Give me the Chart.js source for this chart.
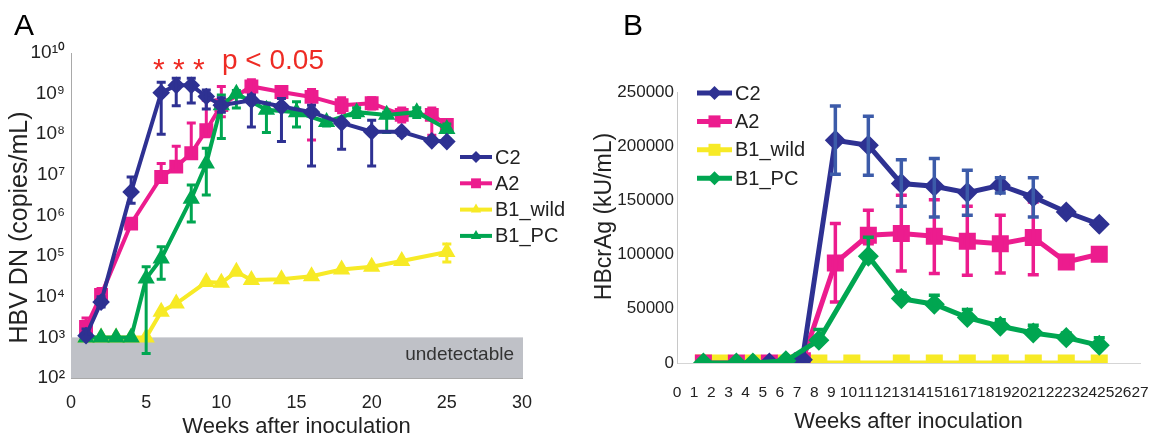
<!DOCTYPE html>
<html>
<head>
<meta charset="utf-8">
<script src="https://cdn.jsdelivr.net/npm/chart.js@4/dist/chart.umd.min.js"></script>
<style>
  body { margin: 0; background: #fff; width: 1155px; height: 440px; position: relative; overflow: hidden;
         font-family: "Liberation Sans", Arial, Helvetica, sans-serif; }
  #cA { position: absolute; left: 0; top: 0; }
  #cB { position: absolute; left: 590px; top: 0; }
  .panel { position: absolute; font-size: 30px; color: #000; line-height: 1; }
</style>
</head>
<body>
<canvas id="cA" width="600" height="440"></canvas>
<canvas id="cB" width="565" height="440"></canvas>
<div class="panel" style="left:14px;top:10px">A</div>
<div class="panel" style="left:623px;top:10px">B</div>
<script>
// ---- Panel A: HBV DNA (log scale) ----
const seriesNames = ["C2", "A2", "B1_wild", "B1_PC"];

const weeksC2A = [1, 2, 4, 6, 7, 8, 9, 10, 12, 14, 16, 18, 20, 22, 24, 25];
const c2A   = [1.1e3, 7.4e3, 3.8e6, 1.05e9, 1.6e9, 1.6e9, 8.5e8, 5.2e8, 6.9e8, 4.8e8, 3.5e8, 1.9e8, 1.15e8, 1.15e8, 6.9e7, 6.6e7];
const c2AHi = [1.6e3, 1.0e4, 8.9e6, 1.9e9, 2.4e9, 2.4e9, 1.23e9, 7.9e8, 9.3e8, 7.6e8, 5.2e8, 2.2e8, 2.2e8, 1.26e8, 7.9e7, 7.6e7];
const c2ALo = [1.0e3, 5.6e3, 2.0e6, 1.0e8, 5.0e8, 5.9e8, 4.2e8, 3.5e8, 1.5e8, 6.6e7, 1.66e7, 4.3e7, 1.66e7, 9.5e7, 6.0e7, 5.8e7];

const weeksA2A = [1, 2, 4, 6, 7, 8, 9, 10, 12, 14, 16, 18, 20, 22, 24, 25];
const a2A   = [1.8e3, 1.1e4, 6.3e5, 8.9e6, 1.6e7, 3.4e7, 1.26e8, 5.2e8, 1.5e9, 1.1e9, 8.3e8, 5.2e8, 5.8e8, 3.0e8, 3.0e8, 1.7e8];
const a2AHi = [3.0e3, 1.6e4, 7.9e5, 1.9e7, 5.1e7, 1.9e8, 6.9e8, 1.5e9, 2.2e9, 1.5e9, 1.26e9, 7.9e8, 7.9e8, 4.4e8, 4.4e8, 2.2e8];
const a2ALo = [1.26e3, 7.9e3, 5.0e5, 7.4e6, 1.3e7, 2.6e7, 8.7e7, 2.7e8, 1.0e9, 7.9e8, 7.2e7, 3.4e8, 4.2e8, 2.0e8, 9.5e7, 1.2e8];

const weeksWildA = [1, 2, 3, 4, 5, 6, 7, 9, 10, 11, 12, 14, 16, 18, 20, 22, 25];
const wildA   = [1e3, 1e3, 1e3, 1e3, 1e3, 4.3e3, 6.8e3, 2.3e4, 2.2e4, 4.1e4, 2.6e4, 2.7e4, 3.2e4, 4.7e4, 5.5e4, 7.6e4, 1.26e5];
const wildAHi = [null, null, null, null, null, null, null, null, null, null, null, null, null, null, null, null, 2.0e5];
const wildALo = [null, null, null, null, null, null, null, null, null, null, null, null, null, null, null, null, 7.2e4];

const weeksPcA = [1, 2, 3, 4, 5, 6, 8, 9, 10, 11, 13, 15, 17, 19, 21, 23, 25];
const pcA   = [1e3, 1e3, 1e3, 1e3, 2.8e4, 8.7e4, 2.6e6, 1.9e7, 5.2e8, 1.0e9, 4.0e8, 3.5e8, 2.0e8, 3.5e8, 3.0e8, 3.5e8, 1.35e8];
const pcAHi = [null, null, null, null, 5.5e4, 1.7e5, 5.6e6, 4.5e7, 9.3e8, 1.2e9, 5.9e8, 6.3e8, 2.5e8, 4.5e8, 3.5e8, 4.5e8, 1.8e8];
const pcALo = [null, null, null, null, 4.0e2, 2.7e4, 6.9e5, 3.2e6, 7.9e7, 4.4e8, 1.1e8, 1.5e8, 1.6e8, 2.6e8, 1.1e8, 2.6e8, 6.3e7];

const yTicksA = [1e2, 1e3, 1e4, 1e5, 1e6, 1e7, 1e8, 1e9, 1e10];
const yTickLabelsA = ["10²", "10³", "10⁴", "10⁵", "10⁶", "10⁷", "10⁸", "10⁹", "10¹⁰"];
const detectLimit = 1e3;

// ---- Panel B: HBcrAg (linear) ----
const weeksC2B = [5, 7, 9, 11, 13, 15, 17, 19, 21, 23, 25];
const c2B   = [0, 3000, 205400, 200800, 165500, 163000, 157200, 164000, 153100, 139300, 128000];
const c2BHi = [null, null, 237100, 227600, 187600, 188600, 177800, 171000, 171000, null, null];
const c2BLo = [null, null, 174100, 173200, 144600, 134700, 136300, 156800, 134700, null, null];

const weeksA2B = [1, 3, 5, 7, 9, 11, 13, 15, 17, 19, 21, 23, 25];
const a2B   = [0, 0, 0, 2000, 92300, 117800, 119400, 116900, 112300, 110100, 115700, 93200, 100300];
const a2BHi = [null, null, null, null, 128600, 140900, 154700, 150700, 144600, 136300, 148500, null, null];
const a2BLo = [null, null, null, null, 56300, 110000, 84900, 82500, 80900, 83000, 81500, null, null];

const weeksWildB = [1, 2, 4, 6, 8, 10, 13, 15, 17, 19, 21, 23, 25];
const wildB = [0, 0, 0, 0, 0, 0, 0, 0, 0, 0, 0, 0, 0];

const weeksPcB = [1, 3, 4, 6, 8, 11, 13, 15, 17, 19, 21, 23, 25];
const pcB   = [0, 0, 0, 2000, 21000, 98500, 59400, 54200, 41900, 33900, 27700, 23400, 16300];
const pcBHi = [null, null, null, null, 30800, 116000, 64600, 62500, 49300, 40000, 34800, 27700, 23400];

const yTicksB = [0, 50000, 100000, 150000, 200000, 250000];
const xTicksB = [0,1,2,3,4,5,6,7,8,9,10,11,12,13,14,15,16,17,18,19,20,21,22,23,24,25,26,27];

const NAVY = "#2E3192", PINK = "#EC1C8E", YELLOW = "#F7EA26", GREEN = "#00A651";
const FONT = "'Liberation Sans', Arial, Helvetica, sans-serif";
const CLEAR = "rgba(0,0,0,0)";

function pts(xs, ys) { return xs.map((x, i) => ({ x: x, y: ys[i] })); }

// error bars drawn right after their own series
const errorBars = {
  id: "errorBars",
  afterDatasetDraw(chart, args, opts) {
    const ds = chart.data.datasets[args.index];
    if (!ds.errHi && !ds.errLo) return;
    const ctx = chart.ctx;
    const xs = chart.scales[args.meta.xAxisID], ys = chart.scales[args.meta.yAxisID];
    ctx.save();
    ctx.strokeStyle = ds.errColor || ds.borderColor;
    ctx.lineWidth = opts.width;
    ds.data.forEach((p, i) => {
      const hi = ds.errHi ? ds.errHi[i] : null;
      const lo = ds.errLo ? ds.errLo[i] : null;
      if (hi == null && lo == null) return;
      const px = xs.getPixelForValue(p.x);
      const y0 = ys.getPixelForValue(p.y);
      const yt = hi != null ? ys.getPixelForValue(hi) : y0;
      const yb = lo != null ? ys.getPixelForValue(lo) : y0;
      ctx.beginPath();
      ctx.moveTo(px, yt); ctx.lineTo(px, yb);
      if (hi != null) { ctx.moveTo(px - opts.cap, yt); ctx.lineTo(px + opts.cap, yt); }
      if (lo != null) { ctx.moveTo(px - opts.cap, yb); ctx.lineTo(px + opts.cap, yb); }
      ctx.stroke();
    });
    ctx.restore();
  }
};

// hand-placed legend with line + marker
const sketchLegend = {
  id: "sketchLegend",
  afterDraw(chart, args, o) {
    const ctx = chart.ctx;
    ctx.save();
    chart.data.datasets.forEach((ds, i) => {
      const y = o.y + i * o.rowH;
      ctx.strokeStyle = ds.borderColor;
      ctx.lineWidth = ds.borderWidth;
      ctx.beginPath(); ctx.moveTo(o.x, y); ctx.lineTo(o.x + o.len, y); ctx.stroke();
      ctx.fillStyle = ds.borderColor;
      Chart.helpers.drawPoint(ctx, { pointStyle: ds.pointStyle, radius: ds.pointRadius, rotation: 0, borderWidth: 0 },
        o.x + o.len / 2, y);
      ctx.fillStyle = "#222";
      ctx.font = o.font + "px " + FONT;
      ctx.textBaseline = "middle";
      ctx.textAlign = "left";
      ctx.fillText(ds.label, o.x + o.len + 3, y + 1);
    });
    ctx.restore();
  }
};

// rotated y-axis title, centred on the plot with a small shift
const yTitle = {
  id: "yTitle",
  afterDraw(chart, args, o) {
    const { ctx, chartArea } = chart;
    ctx.save();
    ctx.translate(o.x, (chartArea.top + chartArea.bottom) / 2 + o.shift);
    ctx.rotate(-Math.PI / 2);
    ctx.fillStyle = "#222";
    ctx.font = o.size + "px " + FONT;
    ctx.textAlign = "center";
    ctx.textBaseline = "middle";
    ctx.fillText(o.text, 0, 0);
    ctx.restore();
  }
};

// grey "undetectable" band + significance marks
const bandA = {
  id: "bandA",
  beforeDatasetsDraw(chart) {
    const { ctx, chartArea } = chart;
    const ys = chart.scales.y;
    const top = ys.getPixelForValue(detectLimit), bot = ys.getPixelForValue(ys.min);
    ctx.save();
    ctx.fillStyle = "#BFC1C7";
    ctx.fillRect(chartArea.left, top, chartArea.right - chartArea.left + 1, bot - top);
    ctx.fillStyle = "#333";
    ctx.font = "19px " + FONT;
    ctx.textAlign = "right";
    ctx.textBaseline = "middle";
    ctx.fillText("undetectable", chartArea.right - 8, (top + bot) / 2 - 3);
    ctx.restore();
  },
  afterDraw(chart) {
    const ctx = chart.ctx;
    ctx.save();
    ctx.fillStyle = "#EE2B24";
    ctx.textBaseline = "alphabetic";
    ctx.textAlign = "left";
    ctx.font = "30px " + FONT;
    ctx.fillText("* * *", 153, 79);
    ctx.font = "28px " + FONT;
    ctx.fillText("p < 0.05", 222, 69);
    ctx.restore();
  }
};

new Chart(document.getElementById("cA"), {
  type: "line",
  data: {
    datasets: [
      { label: seriesNames[0], data: pts(weeksC2A, c2A), errHi: c2AHi, errLo: c2ALo,
        borderColor: NAVY, backgroundColor: NAVY, borderWidth: 4, pointStyle: "rectRot", pointRadius: 6, order: 0 },
      { label: seriesNames[1], data: pts(weeksA2A, a2A), errHi: a2AHi, errLo: a2ALo,
        borderColor: PINK, backgroundColor: PINK, borderWidth: 4, pointStyle: "rect", pointRadius: 7, order: 2 },
      { label: seriesNames[2], data: pts(weeksWildA, wildA), errHi: wildAHi, errLo: wildALo,
        borderColor: YELLOW, backgroundColor: YELLOW, borderWidth: 4, pointStyle: "triangle", pointRadius: 6, order: 3 },
      { label: seriesNames[3], data: pts(weeksPcA, pcA), errHi: pcAHi, errLo: pcALo,
        borderColor: GREEN, backgroundColor: GREEN, borderWidth: 4, pointStyle: "triangle", pointRadius: 6, order: 1 }
    ]
  },
  options: {
    responsive: false, animation: false,
    layout: { padding: { left: 0, top: 53, right: 78, bottom: 0 } },
    elements: { line: { tension: 0 }, point: { borderWidth: 0 } },
    scales: {
      x: {
        type: "linear", min: 0, max: 30,
        ticks: { stepSize: 5, color: "#222", font: { size: 18, family: FONT }, padding: 14 },
        grid: { display: false, drawTicks: false },
        border: { color: "#A9A9A9" },
        title: { display: true, text: "Weeks after inoculation", color: "#222",
                 font: { size: 22, family: FONT }, padding: { top: 0, bottom: 0 } },
        afterFit(s) { s.height = 62; }
      },
      y: {
        type: "logarithmic", min: 1e2, max: 1e10,
        afterBuildTicks(axis) { axis.ticks = yTicksA.map(v => ({ value: v })); },
        ticks: { color: "#222", font: { size: 19, family: FONT }, padding: 6,
                 callback: (v, i) => yTickLabelsA[i] },
        grid: { display: false, drawTicks: false },
        border: { color: "#A9A9A9" },
        afterFit(s) { s.width = 71; }
      }
    },
    plugins: {
      legend: { display: false }, tooltip: { enabled: false },
      errorBars: { width: 3, cap: 4.5 },
      sketchLegend: { x: 460, y: 157, rowH: 26.3, len: 32, font: 20 },
      yTitle: { text: "HBV DN (copies/mL)", x: 20, shift: 12, size: 25 }
    }
  },
  plugins: [bandA, errorBars, sketchLegend, yTitle]
});

new Chart(document.getElementById("cB"), {
  type: "line",
  data: {
    datasets: [
      { label: seriesNames[0], data: pts(weeksC2B, c2B), errHi: c2BHi, errLo: c2BLo, errColor: "#3C5BA9",
        borderColor: NAVY, backgroundColor: NAVY, borderWidth: 5, pointStyle: "rectRot", pointRadius: 7, order: 1 },
      { label: seriesNames[1], data: pts(weeksA2B, a2B), errHi: a2BHi, errLo: a2BLo,
        borderColor: PINK, backgroundColor: PINK, borderWidth: 5, pointStyle: "rect", pointRadius: 8.5, order: 2 },
      { label: seriesNames[2], data: pts(weeksWildB, wildB),
        borderColor: YELLOW, backgroundColor: YELLOW, borderWidth: 5, pointStyle: "rect", pointRadius: 8.5, order: 3 },
      { label: seriesNames[3], data: pts(weeksPcB, pcB), errHi: pcBHi,
        borderColor: GREEN, backgroundColor: GREEN, borderWidth: 5, pointStyle: "rectRot", pointRadius: 7, order: 0 }
    ]
  },
  options: {
    responsive: false, animation: false,
    layout: { padding: { left: 0, top: 92, right: 15, bottom: 0 } },
    elements: { line: { tension: 0 }, point: { borderWidth: 0 } },
    scales: {
      x: { type: "linear", min: -0.6, max: 27.47, display: false },
      x2: {
        type: "linear", position: "bottom", min: 0, max: 27,
        afterBuildTicks(axis) { axis.ticks = xTicksB.map(v => ({ value: v })); },
        ticks: { autoSkip: false, maxRotation: 0, color: "#222", font: { size: 15.5, family: FONT }, padding: 2 },
        grid: { display: true, drawOnChartArea: false, drawTicks: true, tickLength: 18, color: CLEAR },
        border: { color: "#D5D5D5" },
        title: { display: true, text: "Weeks after inoculation", color: "#222",
                 font: { size: 22, family: FONT }, padding: { top: 0, bottom: 5 } },
        afterFit(s) { s.height = 77; }
      },
      y: {
        type: "linear", min: 0, max: 250000,
        afterBuildTicks(axis) { axis.ticks = yTicksB.map(v => ({ value: v })); },
        ticks: { color: "#222", font: { size: 17, family: FONT }, padding: 3, callback: v => String(v) },
        grid: { display: false, drawTicks: false },
        border: { color: "#C8C8C8" },
        afterFit(s) { s.width = 87; }
      }
    },
    plugins: {
      legend: { display: false }, tooltip: { enabled: false },
      errorBars: { width: 3.5, cap: 5.5 },
      sketchLegend: { x: 107, y: 93, rowH: 28.4, len: 35, font: 20 },
      yTitle: { text: "HBcrAg (kU/mL)", x: 15, shift: -11, size: 23 }
    }
  },
  plugins: [errorBars, sketchLegend, yTitle]
});
</script>
</body>
</html>
